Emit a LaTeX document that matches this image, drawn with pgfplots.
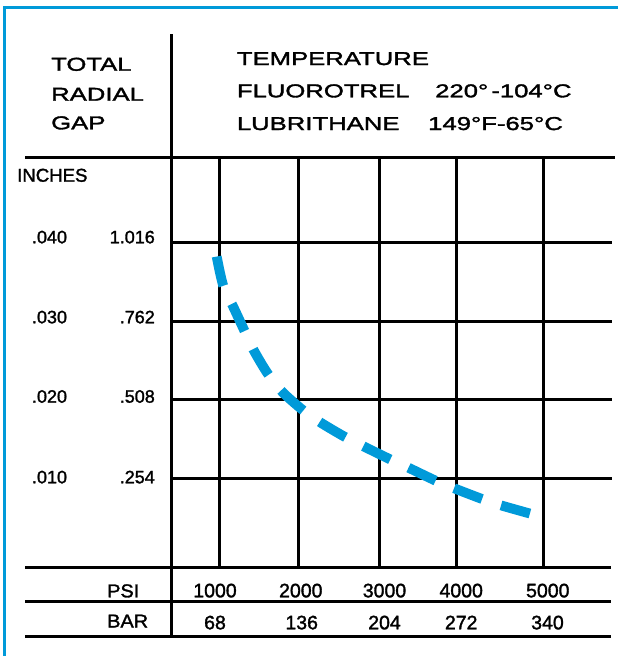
\documentclass[border=0pt]{standalone}
\usepackage{fontspec}
\setmainfont{Liberation Sans}[FakeBold=1.6]
\newfontfamily\hdr{Liberation Sans}[FakeStretch=1.38,FakeBold=1.8]
\newfontfamily\lbl{Liberation Sans}[FakeStretch=1.07,FakeBold=1.6]
\usepackage{pgfplots}
\pgfplotsset{compat=1.18}
\definecolor{cblue}{RGB}{0,154,217}
\begin{document}
\begin{tikzpicture}
\path[use as bounding box] (0pt,0pt) rectangle (618pt,-656pt);
\draw[cblue, line width=2.6pt] (4.5pt,-665pt) -- (4.5pt,-7.3pt) -- (630pt,-7.3pt);
\begin{axis}[at={(172pt,-567pt)}, anchor=south west, scale only axis,
  width=440pt, height=410pt,
  xmin=405.6, xmax=5854.5, ymin=-0.001245, ymax=0.050851,
  xtick={1000,1978,2981,3929,5000}, ytick={0.010,0.020,0.030,0.040},
  xticklabels={}, yticklabels={}, scaled ticks=false,
  grid=major, grid style={black, line width=3pt},
  major tick length=0pt, axis line style={draw=none}, clip=false]
\addplot[cblue, line width=9.8pt, dash pattern=on 30pt off 20pt, line cap=butt, smooth, tension=0.5] coordinates {
(959,0.0382) (1040,0.0345) (1165,0.0318) (1306,0.0287) (1412,0.0264)
(1586,0.0234) (1772,0.0210) (2037,0.0186) (2247,0.0171) (2544,0.0153)
(2775,0.0141) (3114,0.0124) (3328,0.0114) (3675,0.0097) (3889,0.0088)
(4245,0.0074) (4476,0.0066) (4855,0.0055)};
\end{axis}
% table rules
\draw[line width=3pt] (25pt,-157pt) -- (615pt,-157pt);
\draw[line width=3pt] (25pt,-567pt) -- (611pt,-567pt);
\draw[line width=3pt] (25pt,-601.3pt) -- (611pt,-601.3pt);
\draw[line width=3pt] (25pt,-636pt) -- (611pt,-636pt);
\draw[line width=3pt] (171.7pt,-34.3pt) -- (171.7pt,-637.5pt);
% header
\begin{scope}[every node/.style={inner sep=0pt, anchor=base west, font=\hdr\fontsize{18.6}{20}\selectfont}]
\node at (51pt,-70.7pt) {TOTAL};
\node at (51pt,-100.7pt) {RADIAL};
\node at (51pt,-129.3pt) {GAP};
\node at (236.7pt,-65pt) {TEMPERATURE};
\node at (236.7pt,-97.3pt) {FLUOROTREL};
\node at (435pt,-97.3pt) {220°\,-104°C};
\node at (236.7pt,-130pt) {LUBRITHANE};
\node at (428pt,-130pt) {149°F-65°C};
\end{scope}
% left labels
\begin{scope}[every node/.style={inner sep=0pt, font=\fontsize{18}{20}\selectfont}]
\node[anchor=base west, font=\fontsize{18.6}{20}\selectfont] at (17pt,-181.7pt) {INCHES};
\node[anchor=base] at (49.5pt,-243.3pt) {.040};
\node[anchor=base] at (49.5pt,-323.3pt) {.030};
\node[anchor=base] at (49.5pt,-402.7pt) {.020};
\node[anchor=base] at (49.5pt,-483.3pt) {.010};
\node[anchor=base east] at (155pt,-243.3pt) {1.016};
\node[anchor=base east] at (155pt,-323.3pt) {.762};
\node[anchor=base east] at (155pt,-402.7pt) {.508};
\node[anchor=base east] at (155pt,-483.3pt) {.254};
\end{scope}
% bottom rows
\begin{scope}[every node/.style={inner sep=0pt, font=\fontsize{19.5}{20}\selectfont}]
\node[anchor=base west, font=\lbl\fontsize{18.6}{20}\selectfont] at (107pt,-597.3pt) {PSI};
\node[anchor=base west, font=\lbl\fontsize{18.6}{20}\selectfont] at (107pt,-627.5pt) {BAR};
\node[anchor=base] at (215pt,-597.3pt) {1000};
\node[anchor=base] at (300.8pt,-597.3pt) {2000};
\node[anchor=base] at (384.5pt,-597.3pt) {3000};
\node[anchor=base] at (461.2pt,-597.3pt) {4000};
\node[anchor=base] at (547.8pt,-597.3pt) {5000};
\node[anchor=base] at (215pt,-629.3pt) {68};
\node[anchor=base] at (301.7pt,-629.3pt) {136};
\node[anchor=base] at (384.5pt,-629.3pt) {204};
\node[anchor=base] at (461.2pt,-629.3pt) {272};
\node[anchor=base] at (547.5pt,-629.3pt) {340};
\end{scope}
\end{tikzpicture}
\end{document}
